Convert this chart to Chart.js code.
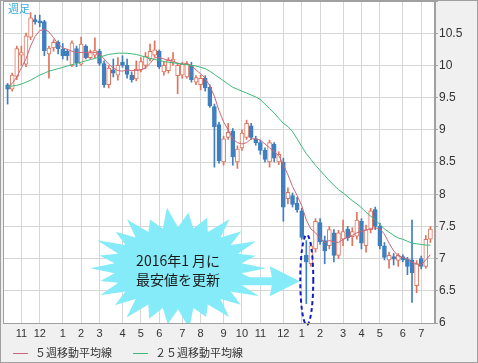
<!DOCTYPE html>
<html>
<head>
<meta charset="utf-8">
<script src="https://cdn.jsdelivr.net/npm/chart.js@4.4.1/dist/chart.umd.min.js"></script>
<style>
  html, body { margin: 0; padding: 0; background: #fff; }
  canvas { display: block; }
</style>
</head>
<body>
<canvas id="chart" width="478" height="363"></canvas>
<script>
// weekly candles, index 0 = first week shown (Oct 2014)
const opens = [
  9.70, 9.63, 9.83, 10.16, 10.02, 10.44, 10.70, 10.68, 10.68, 10.18,
  10.27, 10.36, 10.25, 10.22, 10.00, 10.26, 10.02, 10.30, 10.12, 10.16,
  10.22, 10.03, 9.70, 9.93, 9.85, 10.05, 10.00, 9.85, 9.79, 9.93,
  10.00, 10.10, 10.16, 10.22, 9.90, 9.92, 10.05, 9.84, 9.85, 9.82,
  10.00, 9.74, 9.70, 9.80, 9.66, 9.36, 9.08, 8.50, 8.88, 8.98,
  8.50, 8.72, 8.88, 9.06, 8.86, 8.80, 8.68, 8.50, 8.78, 8.50,
  8.50, 7.93, 7.98, 7.86, 7.74, 7.05, 6.92, 7.15, 7.56, 7.28,
  7.20, 7.40, 7.05, 7.30, 7.46, 7.34, 7.35, 7.58, 7.20, 7.45,
  7.76, 7.50, 7.20, 6.98, 7.03, 6.97, 7.03, 6.99, 6.98, 6.58,
  7.00, 6.88, 7.30
]
const highs = [
  9.72, 9.88, 10.30, 10.30, 10.50, 10.82, 10.78, 10.78, 10.70, 10.30,
  10.40, 10.38, 10.34, 10.25, 10.38, 10.30, 10.44, 10.32, 10.24, 10.43,
  10.25, 10.07, 10.00, 10.10, 10.12, 10.15, 10.10, 9.90, 10.07, 10.12,
  10.20, 10.33, 10.38, 10.24, 10.06, 10.12, 10.20, 10.04, 10.05, 10.06,
  10.05, 9.84, 9.85, 9.84, 9.70, 9.40, 9.12, 8.90, 9.10, 9.02,
  8.75, 9.00, 9.15, 9.10, 8.90, 8.84, 8.72, 8.84, 8.80, 8.66,
  8.56, 8.10, 8.02, 7.95, 7.78, 7.28, 7.24, 7.62, 7.62, 7.35,
  7.50, 7.45, 7.44, 7.60, 7.50, 7.48, 7.72, 7.62, 7.52, 7.78,
  7.80, 7.55, 7.25, 7.10, 7.08, 7.08, 7.06, 7.02, 7.60, 6.97,
  7.04, 7.36, 7.50
]
const lows = [
  9.40, 9.60, 9.78, 10.00, 9.98, 10.40, 10.64, 10.60, 10.15, 9.80,
  10.22, 10.18, 10.10, 10.08, 9.98, 9.98, 10.00, 10.10, 10.10, 10.12,
  10.00, 9.66, 9.65, 9.82, 9.77, 9.97, 9.80, 9.74, 9.76, 9.90,
  9.95, 10.07, 10.13, 9.95, 9.85, 9.88, 10.00, 9.56, 9.80, 9.80,
  9.74, 9.70, 9.62, 9.60, 9.35, 8.42, 8.48, 8.45, 8.85, 8.45,
  8.40, 8.68, 8.85, 8.85, 8.76, 8.62, 8.50, 8.42, 8.50, 8.46,
  7.58, 7.85, 7.80, 7.72, 7.30, 6.30, 6.88, 7.10, 7.22, 6.92,
  7.15, 6.95, 7.00, 7.20, 7.28, 7.20, 7.30, 7.15, 7.10, 7.40,
  7.45, 7.15, 6.98, 6.85, 6.90, 6.88, 6.95, 6.75, 6.32, 6.47,
  6.84, 6.85, 7.25
]
const closes = [
  9.63, 9.85, 10.26, 10.20, 10.46, 10.74, 10.68, 10.66, 10.23, 10.27,
  10.36, 10.26, 10.15, 10.15, 10.35, 10.04, 10.33, 10.12, 10.20, 10.23,
  10.03, 9.70, 9.96, 9.88, 10.00, 10.00, 9.86, 9.78, 9.94, 10.06,
  10.14, 10.22, 10.24, 9.98, 10.00, 10.08, 10.10, 10.00, 10.02, 10.02,
  9.78, 9.81, 9.80, 9.65, 9.37, 9.05, 8.52, 8.86, 8.96, 8.58,
  8.70, 8.95, 9.10, 8.88, 8.80, 8.68, 8.54, 8.80, 8.56, 8.62,
  7.80, 8.03, 7.84, 7.76, 7.33, 6.95, 7.20, 7.58, 7.26, 7.12,
  7.45, 7.05, 7.40, 7.42, 7.32, 7.42, 7.60, 7.24, 7.45, 7.74,
  7.50, 7.20, 7.02, 7.05, 6.99, 7.05, 6.98, 6.88, 6.78, 6.92,
  6.88, 7.30, 7.46
]
// moving averages
const ma5 = [
  9.66, 9.72, 9.82, 9.96, 10.10, 10.30, 10.45, 10.54, 10.56, 10.52,
  10.43, 10.33, 10.27, 10.25, 10.22, 10.20, 10.20, 10.20, 10.21, 10.20,
  10.18, 10.10, 10.02, 9.96, 9.92, 9.91, 9.93, 9.92, 9.92, 9.93,
  9.96, 10.03, 10.12, 10.12, 10.10, 10.08, 10.07, 10.03, 10.02, 10.03,
  10.00, 9.93, 9.87, 9.80, 9.68, 9.52, 9.30, 9.12, 9.00, 8.86,
  8.80, 8.78, 8.80, 8.86, 8.86, 8.84, 8.78, 8.72, 8.66, 8.60,
  8.46, 8.30, 8.12, 7.98, 7.82, 7.60, 7.46, 7.40, 7.32, 7.25,
  7.28, 7.26, 7.25, 7.30, 7.33, 7.36, 7.40, 7.42, 7.44, 7.47,
  7.48, 7.46, 7.38, 7.24, 7.12, 7.04, 7.02, 6.99, 6.94, 6.92,
  6.90, 6.98, 7.06
]
const ma25 = [
  9.67, 9.68, 9.69, 9.71, 9.74, 9.77, 9.81, 9.85, 9.88, 9.91,
  9.93, 9.95, 9.97, 9.99, 10.01, 10.03, 10.05, 10.07, 10.09, 10.11,
  10.13, 10.15, 10.17, 10.18, 10.19, 10.19, 10.19, 10.18, 10.17, 10.15,
  10.13, 10.11, 10.09, 10.08, 10.06, 10.05, 10.04, 10.03, 10.02, 10.01,
  10.00, 9.99, 9.97, 9.95, 9.91, 9.86, 9.81, 9.76, 9.71, 9.66,
  9.63, 9.60, 9.57, 9.54, 9.51, 9.47, 9.40, 9.33, 9.26, 9.18,
  9.10, 9.05, 8.97, 8.86, 8.74, 8.63, 8.54, 8.45, 8.37, 8.29,
  8.21, 8.14, 8.07, 8.02, 7.96, 7.90, 7.85, 7.79, 7.72, 7.66,
  7.60, 7.53, 7.46, 7.41, 7.36, 7.32, 7.30, 7.27, 7.24, 7.23,
  7.22, 7.21, 7.21
]
const monthTicks = [3, 7, 12, 16, 20, 25, 29, 33, 38, 42, 47, 51, 55, 60, 64, 68, 73, 77, 81, 86, 90]
const monthLabels = ['11', '12', '1', '2', '3', '4', '5', '6', '7', '8', '9', '10', '11', '12', '1', '2', '3', '4', '5', '6', '7']
const seriesNames = ['５週移動平均線', '２５週移動平均線']
const calloutLines = ['2016年1 月に', '最安値を更新']
const lowWeek = { week: 65.1, value: 6.67 }
const burstAt = { week: 37.1, value: 6.85 }

const UP = '#e0735c'
const DOWN = '#3f7fbf'
const MA5_COLOR = '#cc6677'
const MA25_COLOR = '#3cb878'
const BURST = '#86ebf9'

const isUp = (i) => closes[i] >= opens[i]

const decor = {
  id: 'decor',
  beforeDraw(chart) {
    const { ctx, chartArea: a, width, height } = chart
    ctx.save()
    ctx.fillStyle = '#f0f0f0'
    ctx.fillRect(0, 0, width, height)
    ctx.fillStyle = '#ffffff'
    ctx.fillRect(a.left, a.top, a.right - a.left, a.bottom - a.top)
    ctx.restore()
  },
  beforeDatasetsDraw(chart) {
    const { ctx, chartArea: a, scales } = chart
    const cx = scales.x.getPixelForValue(burstAt.week)
    const cy = scales.y.getPixelForValue(burstAt.value)
    const jag = [1, 0.92, 1.04, 0.95, 1.02, 0.9, 1.05, 0.97, 0.93, 1.03, 0.96, 1.0, 0.91]
    const n = 26
    ctx.save()
    ctx.beginPath()
    ctx.rect(a.left, a.top, a.right - a.left, a.bottom - a.top)
    ctx.clip()
    ctx.fillStyle = BURST
    ctx.beginPath()
    for (let k = 0; k < n * 2; k++) {
      const ang = (Math.PI * k) / n
      const j = k % 2 === 0 ? jag[(k / 2) % jag.length] : 1
      const rx = k % 2 === 0 ? 88 * j : 64
      const ry = k % 2 === 0 ? 58 * j : 41
      const px = cx + rx * Math.cos(ang)
      const py = cy + ry * Math.sin(ang)
      if (k === 0) ctx.moveTo(px, py)
      else ctx.lineTo(px, py)
    }
    ctx.closePath()
    ctx.fill()

    // arrow toward the circled candle
    const tipX = scales.x.getPixelForValue(lowWeek.week) - 7
    const ay = cy + 13
    ctx.beginPath()
    ctx.moveTo(cx + 55, ay - 4)
    ctx.lineTo(tipX - 28, ay - 4)
    ctx.lineTo(tipX - 30, ay - 15)
    ctx.lineTo(tipX, ay)
    ctx.lineTo(tipX - 30, ay + 15)
    ctx.lineTo(tipX - 28, ay + 4)
    ctx.lineTo(cx + 55, ay + 4)
    ctx.closePath()
    ctx.fill()

    ctx.fillStyle = '#1a1a1a'
    ctx.font = '14px "Noto Sans CJK JP"'
    ctx.textAlign = 'center'
    ctx.textBaseline = 'middle'
    ctx.fillText(calloutLines[0], cx, cy - 8)
    ctx.fillText(calloutLines[1], cx, cy + 11)
    ctx.restore()
  },
  afterDatasetsDraw(chart) {
    const { ctx, scales } = chart
    const ex = scales.x.getPixelForValue(lowWeek.week)
    const ey = scales.y.getPixelForValue(lowWeek.value)
    ctx.save()
    ctx.strokeStyle = '#1020c0'
    ctx.lineWidth = 2
    ctx.setLineDash([4, 3])
    ctx.beginPath()
    ctx.ellipse(ex, ey, 6.5, 45, 0, 0, Math.PI * 2)
    ctx.stroke()
    ctx.restore()
  },
  afterDraw(chart) {
    const { ctx, chartArea: a, width, height } = chart
    ctx.save()
    ctx.strokeStyle = '#a0a0a0'
    ctx.lineWidth = 1
    ctx.strokeRect(a.left + 0.5, a.top + 0.5, a.right - a.left - 1, a.bottom - a.top)
    ctx.strokeRect(0.5, 0.5, width - 1, height - 1)

    ctx.fillStyle = '#33aadd'
    ctx.font = '11px "Noto Sans CJK JP"'
    ctx.textBaseline = 'middle'
    ctx.fillText('週足', a.left + 5, a.top + 8)

    // legend
    const items = [
      { label: seriesNames[0], color: MA5_COLOR, x: 13 },
      { label: seriesNames[1], color: MA25_COLOR, x: 133 },
    ]
    const ly = 353
    items.forEach((it) => {
      ctx.strokeStyle = it.color
      ctx.beginPath()
      ctx.moveTo(it.x, ly + 0.5)
      ctx.lineTo(it.x + 15, ly + 0.5)
      ctx.stroke()
      ctx.fillStyle = '#333'
      ctx.font = '11px "Noto Sans CJK JP"'
      ctx.fillText(it.label, it.x + 22, ly)
    })
    ctx.restore()
  },
}

new Chart(document.getElementById('chart'), {
  type: 'bar',
  data: {
    datasets: [
      {
        label: 'wick',
        data: opens.map((o, i) => ({ x: i, y: [lows[i], highs[i]] })),
        backgroundColor: (c) => (isUp(c.dataIndex) ? UP : DOWN),
        borderWidth: 0,
        barThickness: 1,
        grouped: false,
        order: 3,
      },
      {
        label: 'body',
        data: opens.map((o, i) => ({ x: i, y: [o, closes[i]] })),
        backgroundColor: (c) => (isUp(c.dataIndex) ? '#ffffff' : DOWN),
        borderColor: (c) => (isUp(c.dataIndex) ? UP : DOWN),
        borderWidth: 1,
        borderSkipped: false,
        minBarLength: 2,
        barThickness: 4,
        grouped: false,
        order: 2,
      },
      {
        type: 'line',
        label: seriesNames[0],
        data: ma5.map((v, i) => ({ x: i, y: v })),
        borderColor: MA5_COLOR,
        borderWidth: 1,
        pointRadius: 0,
        tension: 0,
        order: 1,
      },
      {
        type: 'line',
        label: seriesNames[1],
        data: ma25.map((v, i) => ({ x: i, y: v })),
        borderColor: MA25_COLOR,
        borderWidth: 1,
        pointRadius: 0,
        tension: 0,
        order: 0,
      },
    ],
  },
  options: {
    responsive: false,
    animation: false,
    layout: { padding: { left: 3, top: 1, right: 0, bottom: 20 } },
    plugins: { legend: { display: false }, tooltip: { enabled: false } },
    scales: {
      x: {
        type: 'linear',
        min: -1,
        max: 93,
        offset: false,
        afterBuildTicks: (s) => {
          s.ticks = monthTicks.map((v) => ({ value: v }))
        },
        afterFit: (s) => {
          s.height = 20
        },
        ticks: {
          callback: (v, i) => monthLabels[i],
          autoSkip: false,
          maxRotation: 0,
          color: '#333',
          font: { family: 'Liberation Sans', size: 11 },
          padding: 4,
        },
        grid: { color: '#d6d6d6', offset: false, drawTicks: false },
        border: { color: '#a0a0a0' },
      },
      y: {
        position: 'right',
        min: 6,
        max: 11,
        afterFit: (s) => {
          s.width = 43
          s.paddingTop = 0
        },
        ticks: {
          stepSize: 0.5,
          callback: (v) => (v === 11 ? '' : v),
          color: '#333',
          font: { family: 'Liberation Sans', size: 12 },
          padding: 1,
        },
        grid: { color: '#d6d6d6', tickLength: 3, tickColor: '#a0a0a0' },
        border: { color: '#a0a0a0' },
      },
    },
  },
  plugins: [decor],
})
</script>
</body>
</html>
